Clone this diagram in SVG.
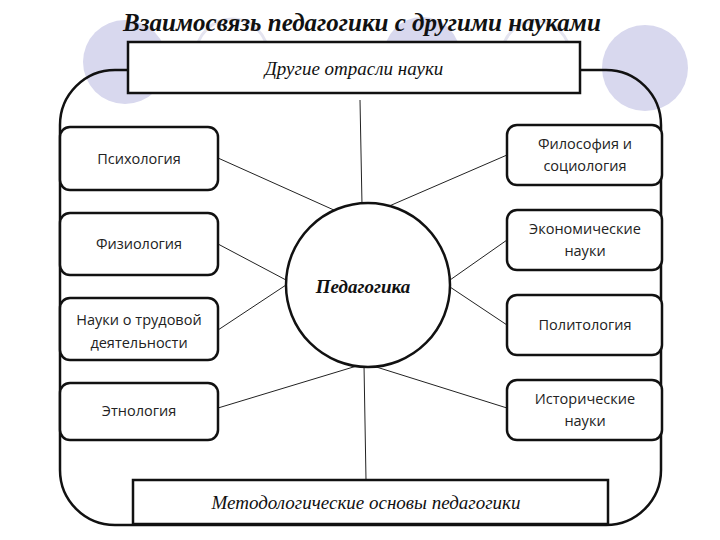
<svg xmlns="http://www.w3.org/2000/svg" width="720" height="540" viewBox="0 0 720 540">
<style>
.b{fill:#fff;stroke:#111;stroke-width:2.5}
.r{fill:#fff;stroke:#111;stroke-width:2.5}
.t{font-family:"Open Sans",sans-serif;font-size:14.5px;fill:#222;text-anchor:middle}
.i{font-family:"Liberation Serif",serif;font-style:italic;font-size:19px;fill:#111;text-anchor:middle}
.c line{stroke:#222;stroke-width:1}
</style>
<rect width="720" height="540" fill="#fff"/>
<g id="decor">
<circle cx="125" cy="62" r="42" fill="#d8d8ee"/>
<circle cx="232" cy="55" r="36" fill="#fff" stroke="#e4e4f0" stroke-width="3"/>
<circle cx="422" cy="55" r="38" fill="#d8d8ee"/>
<circle cx="536" cy="55" r="34" fill="#fff" stroke="#e4e4f0" stroke-width="3"/>
<circle cx="645" cy="68" r="43" fill="#d8d8ee"/>
</g>
<text x="362" y="31" font-family="Liberation Serif,serif" font-style="italic" font-weight="bold" font-size="25" text-anchor="middle" fill="#111">Взаимосвязь педагогики с другими науками</text>
<g id="frame"><rect x="60" y="70" width="601" height="455" rx="55" fill="none" stroke="#111" stroke-width="2.5"/></g>
<g class="c" id="connectors">
<line x1="360" y1="100" x2="362" y2="205"/>
<line x1="364" y1="365" x2="366" y2="480"/>
<line x1="218" y1="158" x2="345" y2="215"/>
<line x1="507" y1="155" x2="380" y2="210"/>
<line x1="218" y1="244" x2="286" y2="280"/>
<line x1="218" y1="330" x2="286" y2="285"/>
<line x1="507" y1="240" x2="450" y2="280"/>
<line x1="507" y1="325" x2="450" y2="287"/>
<line x1="218" y1="408" x2="360" y2="365"/>
<line x1="507" y1="408" x2="370" y2="365"/>
</g>
<g id="top"><rect class="b" x="128" y="42" width="452" height="51"/><text class="i" x="354" y="75">Другие отрасли науки</text></g>
<g id="bottom"><rect class="b" x="133" y="480" width="475" height="44"/><text class="i" x="366" y="509">Методологические основы педагогики</text></g>
<g id="ped"><circle cx="368" cy="285" r="82" class="b"/><text x="363" y="293" font-family="Liberation Serif,serif" font-style="italic" font-weight="bold" font-size="19" text-anchor="middle" fill="#111">Педагогика</text></g>
<g id="psy"><rect class="r" x="60" y="127" width="158" height="63" rx="10"/><text class="t" x="139" y="164">Психология</text></g>
<g id="phys"><rect class="r" x="60" y="213" width="158" height="62" rx="10"/><text class="t" x="139" y="249">Физиология</text></g>
<g id="trud"><rect class="r" x="60" y="298" width="158" height="62" rx="10"/><text class="t" x="139" y="325">Науки о трудовой</text><text class="t" x="139" y="348">деятельности</text></g>
<g id="etno"><rect class="r" x="60" y="383" width="158" height="57" rx="10"/><text class="t" x="139" y="416">Этнология</text></g>
<g id="phil"><rect class="r" x="507" y="125" width="155" height="60" rx="10"/><text class="t" x="585" y="149">Философия и</text><text class="t" x="585" y="171">социология</text></g>
<g id="econ"><rect class="r" x="507" y="210" width="155" height="60" rx="10"/><text class="t" x="585" y="234">Экономические</text><text class="t" x="585" y="256">науки</text></g>
<g id="pol"><rect class="r" x="507" y="295" width="155" height="60" rx="10"/><text class="t" x="585" y="330">Политология</text></g>
<g id="hist"><rect class="r" x="507" y="380" width="155" height="60" rx="10"/><text class="t" x="585" y="404">Исторические</text><text class="t" x="585" y="426">науки</text></g>
</svg>
